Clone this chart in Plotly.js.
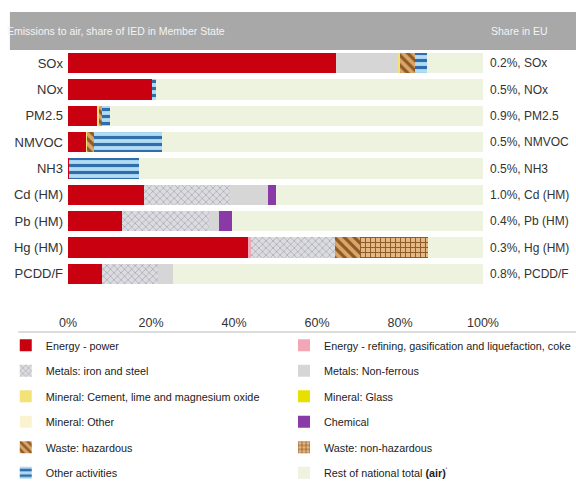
<!DOCTYPE html>
<html>
<head>
<meta charset="utf-8">
<script src="https://cdn.plot.ly/plotly-3.0.1.min.js"></script>
<style>html,body{margin:0;padding:0;background:#fff;}#chart{width:576px;height:483px;}</style>
</head>
<body>
<div id="chart"></div>
<script>
const categories = ['SOx','NOx','PM2.5','NMVOC','NH3','Cd (HM)','Pb (HM)','Hg (HM)','PCDD/F'];
const energyPower    = [64.6, 20.2, 7.0, 4.3, 0.3, 18.3, 13.0, 43.4, 8.2];
const energyRefining = [0, 0, 0, 0, 0, 0, 0, 0.8, 0];
const ironSteel      = [0, 0, 0, 0, 0, 20.7, 21.0, 20.1, 13.5];
const nonFerrous     = [14.9, 0, 0, 0, 0, 9.2, 2.4, 0, 3.6];
const mineralCement  = [0.5, 0, 0.5, 0.3, 0, 0, 0, 0, 0];
const mineralGlass   = [0, 0, 0, 0, 0, 0, 0, 0, 0];
const mineralOther   = [0, 0, 0, 0, 0, 0, 0, 0, 0];
const chemical       = [0, 0, 0, 0, 0, 2.0, 3.1, 0, 0];
const wasteHaz       = [3.5, 0, 0.8, 1.7, 0, 0, 0, 6.1, 0];
const wasteNonHaz    = [0, 0, 0, 0, 0, 0, 0, 16.3, 0];
const otherActivities= [3.1, 1.0, 1.7, 16.4, 16.8, 0, 0, 0, 0];
const restNational   = [13.4, 78.8, 90.0, 77.3, 82.9, 49.8, 60.5, 13.3, 74.7];
const shareLabels = ['0.2%, SOx','0.5%, NOx','0.9%, PM2.5','0.5%, NMVOC','0.5%, NH3','1.0%, Cd (HM)','0.4%, Pb (HM)','0.3%, Hg (HM)','0.8%, PCDD/F'];
const xTicks = [0, 20, 40, 60, 80, 100];
const xTickText = ['0%', '20%', '40%', '60%', '80%', '100%'];
const headerLeft = 'Emissions to air, share of IED in Member State';
const headerRight = 'Share in EU';

const FONT = '"Liberation Sans", Arial, sans-serif';

let gid = 0;
function bar(name, vals, color, legendId, pattern) {
  const m = {color: color, line: {width: 0}};
  if (pattern) m.pattern = pattern;
  gid += 1;
  return {type: 'bar', orientation: 'h', name: name, legend: legendId, legendgroup: 'g' + gid,
          x: vals, y: categories, marker: m, hoverinfo: 'skip'};
}

const traces = [
  bar('Energy - power', energyPower, '#c90010', 'legend'),
  bar('Energy - refining, gasification and liquefaction, coke', energyRefining, '#f2a7b8', 'legend2'),
  bar('Metals: iron and steel', ironSteel, '#d8d8dc', 'legend', {shape: 'x', fgcolor: '#aeaeb8', bgcolor: '#dcdce0', size: 5, solidity: 0.3}),
  bar('Metals: Non-ferrous', nonFerrous, '#d6d6d6', 'legend2'),
  bar('Mineral: Cement, lime and magnesium oxide', mineralCement, '#f3e27a', 'legend'),
  bar('Mineral: Glass', mineralGlass, '#e8e000', 'legend2'),
  bar('Mineral: Other', mineralOther, '#fbf3cf', 'legend'),
  bar('Chemical', chemical, '#8a3aa6', 'legend2'),
  bar('Waste: hazardous', wasteHaz, '#d9a15a', 'legend', {shape: '\\', fgcolor: '#8a5a2a', bgcolor: '#dca566', size: 7, solidity: 0.45}),
  bar('Waste: non-hazardous', wasteNonHaz, '#e2b47a', 'legend2', {shape: '+', fgcolor: '#8a5a2a', bgcolor: '#e4b880', size: 5, solidity: 0.35}),
  bar('Other activities', otherActivities, '#a9d6f0', 'legend', {shape: '-', fgcolor: '#2f6ea8', bgcolor: '#b2dcf4', size: 7, solidity: 0.45}),
  bar('Rest of national total <b>(air)</b><sup>\u02B9</sup>', restNational, '#eef3df', 'legend2')
];

const annotations = categories.map((c, i) => ({
  x: 1.012, xref: 'paper', xanchor: 'left', y: c, yref: 'y',
  text: shareLabels[i], showarrow: false,
  font: {family: FONT, size: 12, color: '#333'}
}));
annotations.push({x: -0.151, xref: 'paper', xanchor: 'left', y: 1.08, yref: 'paper', yanchor: 'middle',
  text: headerLeft, showarrow: false, font: {family: FONT, size: 10.5, color: '#f4f4f4'}});
annotations.push({x: 1.087, xref: 'paper', xanchor: 'center', y: 1.08, yref: 'paper', yanchor: 'middle',
  text: headerRight, showarrow: false, font: {family: FONT, size: 10.5, color: '#f4f4f4'}});

const legendCommon = {
  orientation: 'v', yref: 'container', y: 0.315, yanchor: 'top', xanchor: 'left',
  traceorder: 'grouped', tracegroupgap: 6.5, bgcolor: 'rgba(0,0,0,0)',
  font: {family: FONT, size: 10.8, color: '#222'}, itemclick: false, itemdoubleclick: false
};

const layout = {
  width: 576, height: 483,
  margin: {l: 68, r: 93, t: 50, b: 196},
  barmode: 'stack', bargap: 0.24,
  paper_bgcolor: '#ffffff', plot_bgcolor: '#ffffff',
  showlegend: true,
  legend: Object.assign({}, legendCommon, {x: -0.15}),
  legend2: Object.assign({}, legendCommon, {x: 0.523}),
  xaxis: {range: [0, 100], tickmode: 'array', tickvals: xTicks, ticktext: xTickText,
          showgrid: false, zeroline: false,
          showline: false, ticks: '', ticklabelstandoff: 26, fixedrange: true,
          tickfont: {family: FONT, size: 12.5, color: '#333'}},
  yaxis: {autorange: 'reversed', showgrid: false, zeroline: false, showline: false, ticks: '',
          tickmode: 'array', tickvals: categories,
          ticklabelstandoff: 4, fixedrange: true,
          tickfont: {family: FONT, size: 13, color: '#333'}},
  shapes: [
    {type: 'rect', xref: 'paper', yref: 'paper', x0: -0.14, x1: 1.23, y0: 1.0, y1: 1.16,
     fillcolor: '#a8a8a8', line: {width: 0}, layer: 'below'},
    {type: 'line', xref: 'paper', yref: 'paper', x0: -0.12, x1: 1.23, y0: -0.19, y1: -0.19,
     line: {color: '#d0d0d0', width: 1.5}}
  ],
  annotations: annotations
};

Plotly.newPlot('chart', traces, layout, {displayModeBar: false, staticPlot: true});
</script>
</body>
</html>
